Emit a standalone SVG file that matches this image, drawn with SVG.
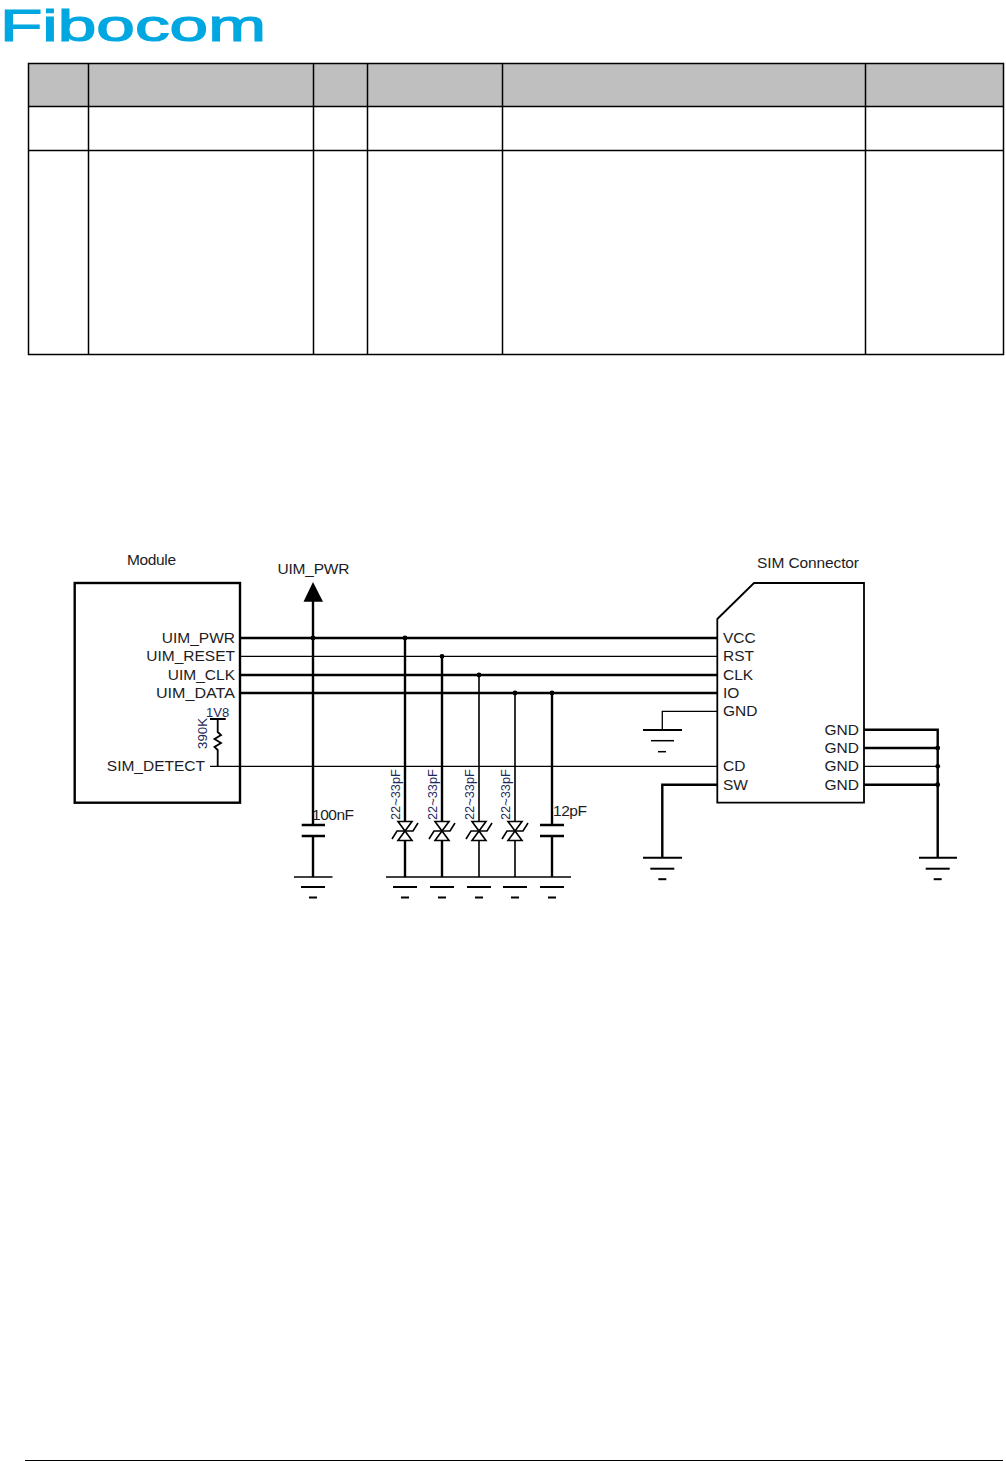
<svg xmlns="http://www.w3.org/2000/svg" width="1006" height="1461" viewBox="0 0 1006 1461">
<defs>
<style>
.t{font-family:"Liberation Sans",Arial,sans-serif;font-size:15.5px;fill:#1c1c24}
.e{text-anchor:end}
.v{font-family:"Liberation Sans",Arial,sans-serif;font-size:12.8px;fill:#1a2a5c}
.w,.n,.h{fill:none;stroke:#000}
.h{stroke-width:2.4}
.n{stroke-width:1.3}
.g1{stroke:#000;stroke-width:2}
.g2{stroke:#000;stroke-width:1.5}
.tb{fill:none;stroke:#000;stroke-width:1.5}
</style>
<g id="gnd-lower"><line class="g1" x1="-12" y1="0" x2="12" y2="0"/><line class="g1" x1="-4" y1="10.5" x2="4" y2="10.5"/></g>
<g id="tvs">
<path class="n" style="stroke-width:1.6" d="M-7,-9.5H7L-7,9.5H7Z"/>
<path class="n" style="stroke-width:1.6" d="M-13,8L-8,0H8L13,-8"/>
</g>
</defs>
<rect width="1006" height="1461" fill="#fff"/>
<g id="logo">
<text x="0" y="41" textLength="266" lengthAdjust="spacingAndGlyphs" style="font-family:'Liberation Sans',Arial,sans-serif;font-size:45px;fill:#00a7e1;stroke:#00a7e1;stroke-width:1.2">Fibocom</text>
</g>
<g id="table">
<rect x="28.5" y="63.5" width="975" height="43" fill="#bfbfbf"/>
<rect class="tb" x="28.5" y="63.5" width="975" height="291"/>
<path class="tb" d="M28.5,106.5H1003.5M28.5,150.5H1003.5M88.5,63.5V354.5M313.5,63.5V354.5M367.5,63.5V354.5M502.5,63.5V354.5M865.5,63.5V354.5"/>
</g>
<g id="footer-rule"><line x1="25" y1="1460.5" x2="1003" y2="1460.5" stroke="#000" stroke-width="1"/></g>

<g id="connectors">
<path class="h" d="M240,638H717M240,675H717M240,693H717"/>
<path class="n" d="M240,656.3H717M210,766.3H717"/>
<path class="h" d="M313,600V825M313,836V877"/>
<path class="h" d="M405,638V822M405,840V877M442,656V822M442,840V877M552,693V825M552,836V877"/>
<path class="n" style="stroke-width:1.6" d="M479,675V822M479,840V877M515,693V822M515,840V877"/>
<path class="n" d="M717,711.3H662.3V730"/>
<path class="h" d="M717,784.7H662.3V857.7"/>
<path class="h" d="M864,729.7H937.7V857.7M864,748H937.7M864,784.7H937.7"/>
<path class="n" d="M864,766.3H937.7"/>
<g fill="#000">
<circle cx="313" cy="638" r="2.4"/><circle cx="405" cy="638" r="2.4"/><circle cx="442" cy="656.3" r="2.4"/><circle cx="479" cy="675" r="2.4"/><circle cx="515" cy="693" r="2.4"/><circle cx="552" cy="693" r="2.4"/>
<circle cx="937.7" cy="748" r="2.4"/><circle cx="937.7" cy="766.3" r="2.4"/><circle cx="937.7" cy="784.7" r="2.4"/>
</g>
</g>

<g id="module">
<rect class="h" x="74.7" y="583" width="165.3" height="219.7"/>
<text class="t" x="127" y="564.5" textLength="49">Module</text>
<text class="t e" x="235" y="643">UIM_PWR</text>
<text class="t e" x="235" y="661">UIM_RESET</text>
<text class="t e" x="235" y="680">UIM_CLK</text>
<text class="t e" x="235" y="698" textLength="79" lengthAdjust="spacingAndGlyphs">UIM_DATA</text>
<text class="t e" x="205" y="771">SIM_DETECT</text>
</g>
<g id="pullup-390k">
<path class="h" style="stroke-width:1.8" d="M210,719H225.7M217.7,719V732L221,735L214.5,739L221,743L214.5,747L217.7,750V766.3"/>
<text class="v" x="206" y="716.5" style="font-size:13px">1V8</text>
<text class="v" transform="translate(206.7,749) rotate(-90)" style="font-size:13.3px">390K</text>
</g>
<g id="uim-pwr-rail">
<path d="M313,582L323,601.7H303.5Z" fill="#000"/>
<text class="t" x="277.5" y="574" textLength="72">UIM_PWR</text>
</g>
<g id="cap-100nf">
<path class="h" d="M301.7,825H325M301.7,836H325"/>
<text class="t" x="312" y="819.5" textLength="42">100nF</text>
</g>
<g id="gnd-100nf">
<line class="g2" x1="294" y1="877" x2="332.5" y2="877"/>
<use href="#gnd-lower" x="313" y="887"/>
</g>
<g id="tvs-1"><use href="#tvs" x="405" y="831"/><text class="v" transform="translate(400,820) rotate(-90)">22~33pF</text></g>
<g id="tvs-2"><use href="#tvs" x="442" y="831"/><text class="v" transform="translate(437,820) rotate(-90)">22~33pF</text></g>
<g id="tvs-3"><use href="#tvs" x="479" y="831"/><text class="v" transform="translate(474,820) rotate(-90)">22~33pF</text></g>
<g id="tvs-4"><use href="#tvs" x="515" y="831"/><text class="v" transform="translate(510,820) rotate(-90)">22~33pF</text></g>
<g id="cap-12pf">
<path class="h" d="M540,825H564M540,836H564"/>
<text class="t" x="553" y="815.5" textLength="34">12pF</text>
</g>
<g id="gnd-bus">
<line class="g2" x1="386" y1="877" x2="571" y2="877"/>
<use href="#gnd-lower" x="405" y="887"/>
<use href="#gnd-lower" x="442" y="887"/>
<use href="#gnd-lower" x="479" y="887"/>
<use href="#gnd-lower" x="515" y="887"/>
<use href="#gnd-lower" x="552" y="887"/>
</g>
<g id="sim-connector">
<path class="n" style="stroke-width:1.8" d="M717.3,619L754,583H864V802.7H717.3Z"/>
<text class="t" x="757" y="568" textLength="102">SIM Connector</text>
<text class="t" x="723" y="643">VCC</text>
<text class="t" x="723" y="661">RST</text>
<text class="t" x="723" y="680">CLK</text>
<text class="t" x="723" y="698">IO</text>
<text class="t" x="723" y="716">GND</text>
<text class="t" x="723" y="771">CD</text>
<text class="t" x="723" y="789.5">SW</text>
<text class="t e" x="859" y="735">GND</text>
<text class="t e" x="859" y="753">GND</text>
<text class="t e" x="859" y="771">GND</text>
<text class="t e" x="859" y="789.5">GND</text>
</g>
<g id="gnd-sim-pin">
<line class="g1" x1="643" y1="730" x2="682" y2="730"/>
<line class="g2" x1="651" y1="740.7" x2="674" y2="740.7"/>
<line class="g2" x1="658" y1="751.7" x2="666" y2="751.7"/>
</g>
<g id="gnd-sw">
<line class="g1" x1="643" y1="857.7" x2="682" y2="857.7"/>
<use href="#gnd-lower" x="662.3" y="868.7"/>
</g>
<g id="gnd-right">
<line class="g1" x1="919" y1="857.7" x2="957" y2="857.7"/>
<use href="#gnd-lower" x="937.7" y="868.7"/>
</g>
</svg>
